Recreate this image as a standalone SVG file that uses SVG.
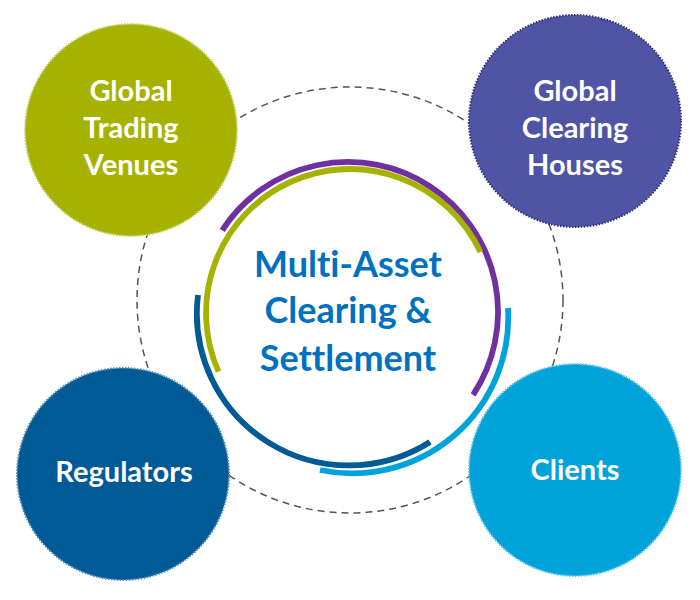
<svg xmlns="http://www.w3.org/2000/svg" width="700" height="600" viewBox="0 0 700 600">
<style>
text{font-variant-ligatures:none;font-feature-settings:"liga" 0}
.node-label{font-family:Lato,"Open Sans","Liberation Sans",sans-serif;font-weight:bold;font-size:29px;fill:#ffffff;text-anchor:middle}
.center-label{font-family:Lato,"Open Sans","Liberation Sans",sans-serif;font-weight:bold;font-size:36px;fill:#0070c0;text-anchor:middle}
.arc{fill:none;stroke-width:5.8;stroke-linecap:butt}
.bubble{stroke-width:2;stroke-dasharray:1.5 1.5}
</style>
<rect width="700" height="600" fill="#ffffff"/>
<g id="connectors">
<circle cx="350" cy="300" r="213" fill="none" stroke="#555555" stroke-width="1.5" stroke-dasharray="7 5"/>
</g>
<g id="center">
<path class="arc" stroke="#7030a0" d="M 222.2 230.3 A 150 150 0 0 1 429.7 186.2 A 150 150 0 0 1 473.1 394.8"/>
<path class="arc" stroke="#a5b300" d="M 218.5 371.6 A 144 144 0 0 1 290.3 182.0 A 144 144 0 0 1 480.5 252.1"/>
<path class="arc" stroke="#005a96" d="M 198 295 A 152 152 0 0 0 430 442"/>
<path class="arc" stroke="#00a3d9" d="M 508 308 A 156 156 0 0 1 320 470"/>
<text class="center-label" x="348" y="277">Multi-Asset</text>
<text class="center-label" x="348" y="323">Clearing &amp;</text>
<text class="center-label" x="348" y="371">Settlement</text>
</g>
<g id="trading-venues">
<circle class="bubble" cx="131" cy="130" r="106" fill="#a5b300" stroke="#c8cf66"/>
<text class="node-label" x="131" y="101">Global</text>
<text class="node-label" x="131" y="138">Trading</text>
<text class="node-label" x="131" y="175">Venues</text>
</g>
<g id="clearing-houses">
<circle class="bubble" cx="575" cy="121" r="106" fill="#5054a4" stroke="#2e3070"/>
<text class="node-label" x="575" y="101">Global</text>
<text class="node-label" x="575" y="138">Clearing</text>
<text class="node-label" x="575" y="175">Houses</text>
</g>
<g id="regulators">
<circle class="bubble" cx="123" cy="474" r="106" fill="#005a96" stroke="#4d8bb6"/>
<text class="node-label" x="124" y="482">Regulators</text>
</g>
<g id="clients">
<circle class="bubble" cx="575" cy="470" r="106" fill="#00a3d9" stroke="#66c6e8"/>
<text class="node-label" x="575" y="480">Clients</text>
</g>
</svg>
